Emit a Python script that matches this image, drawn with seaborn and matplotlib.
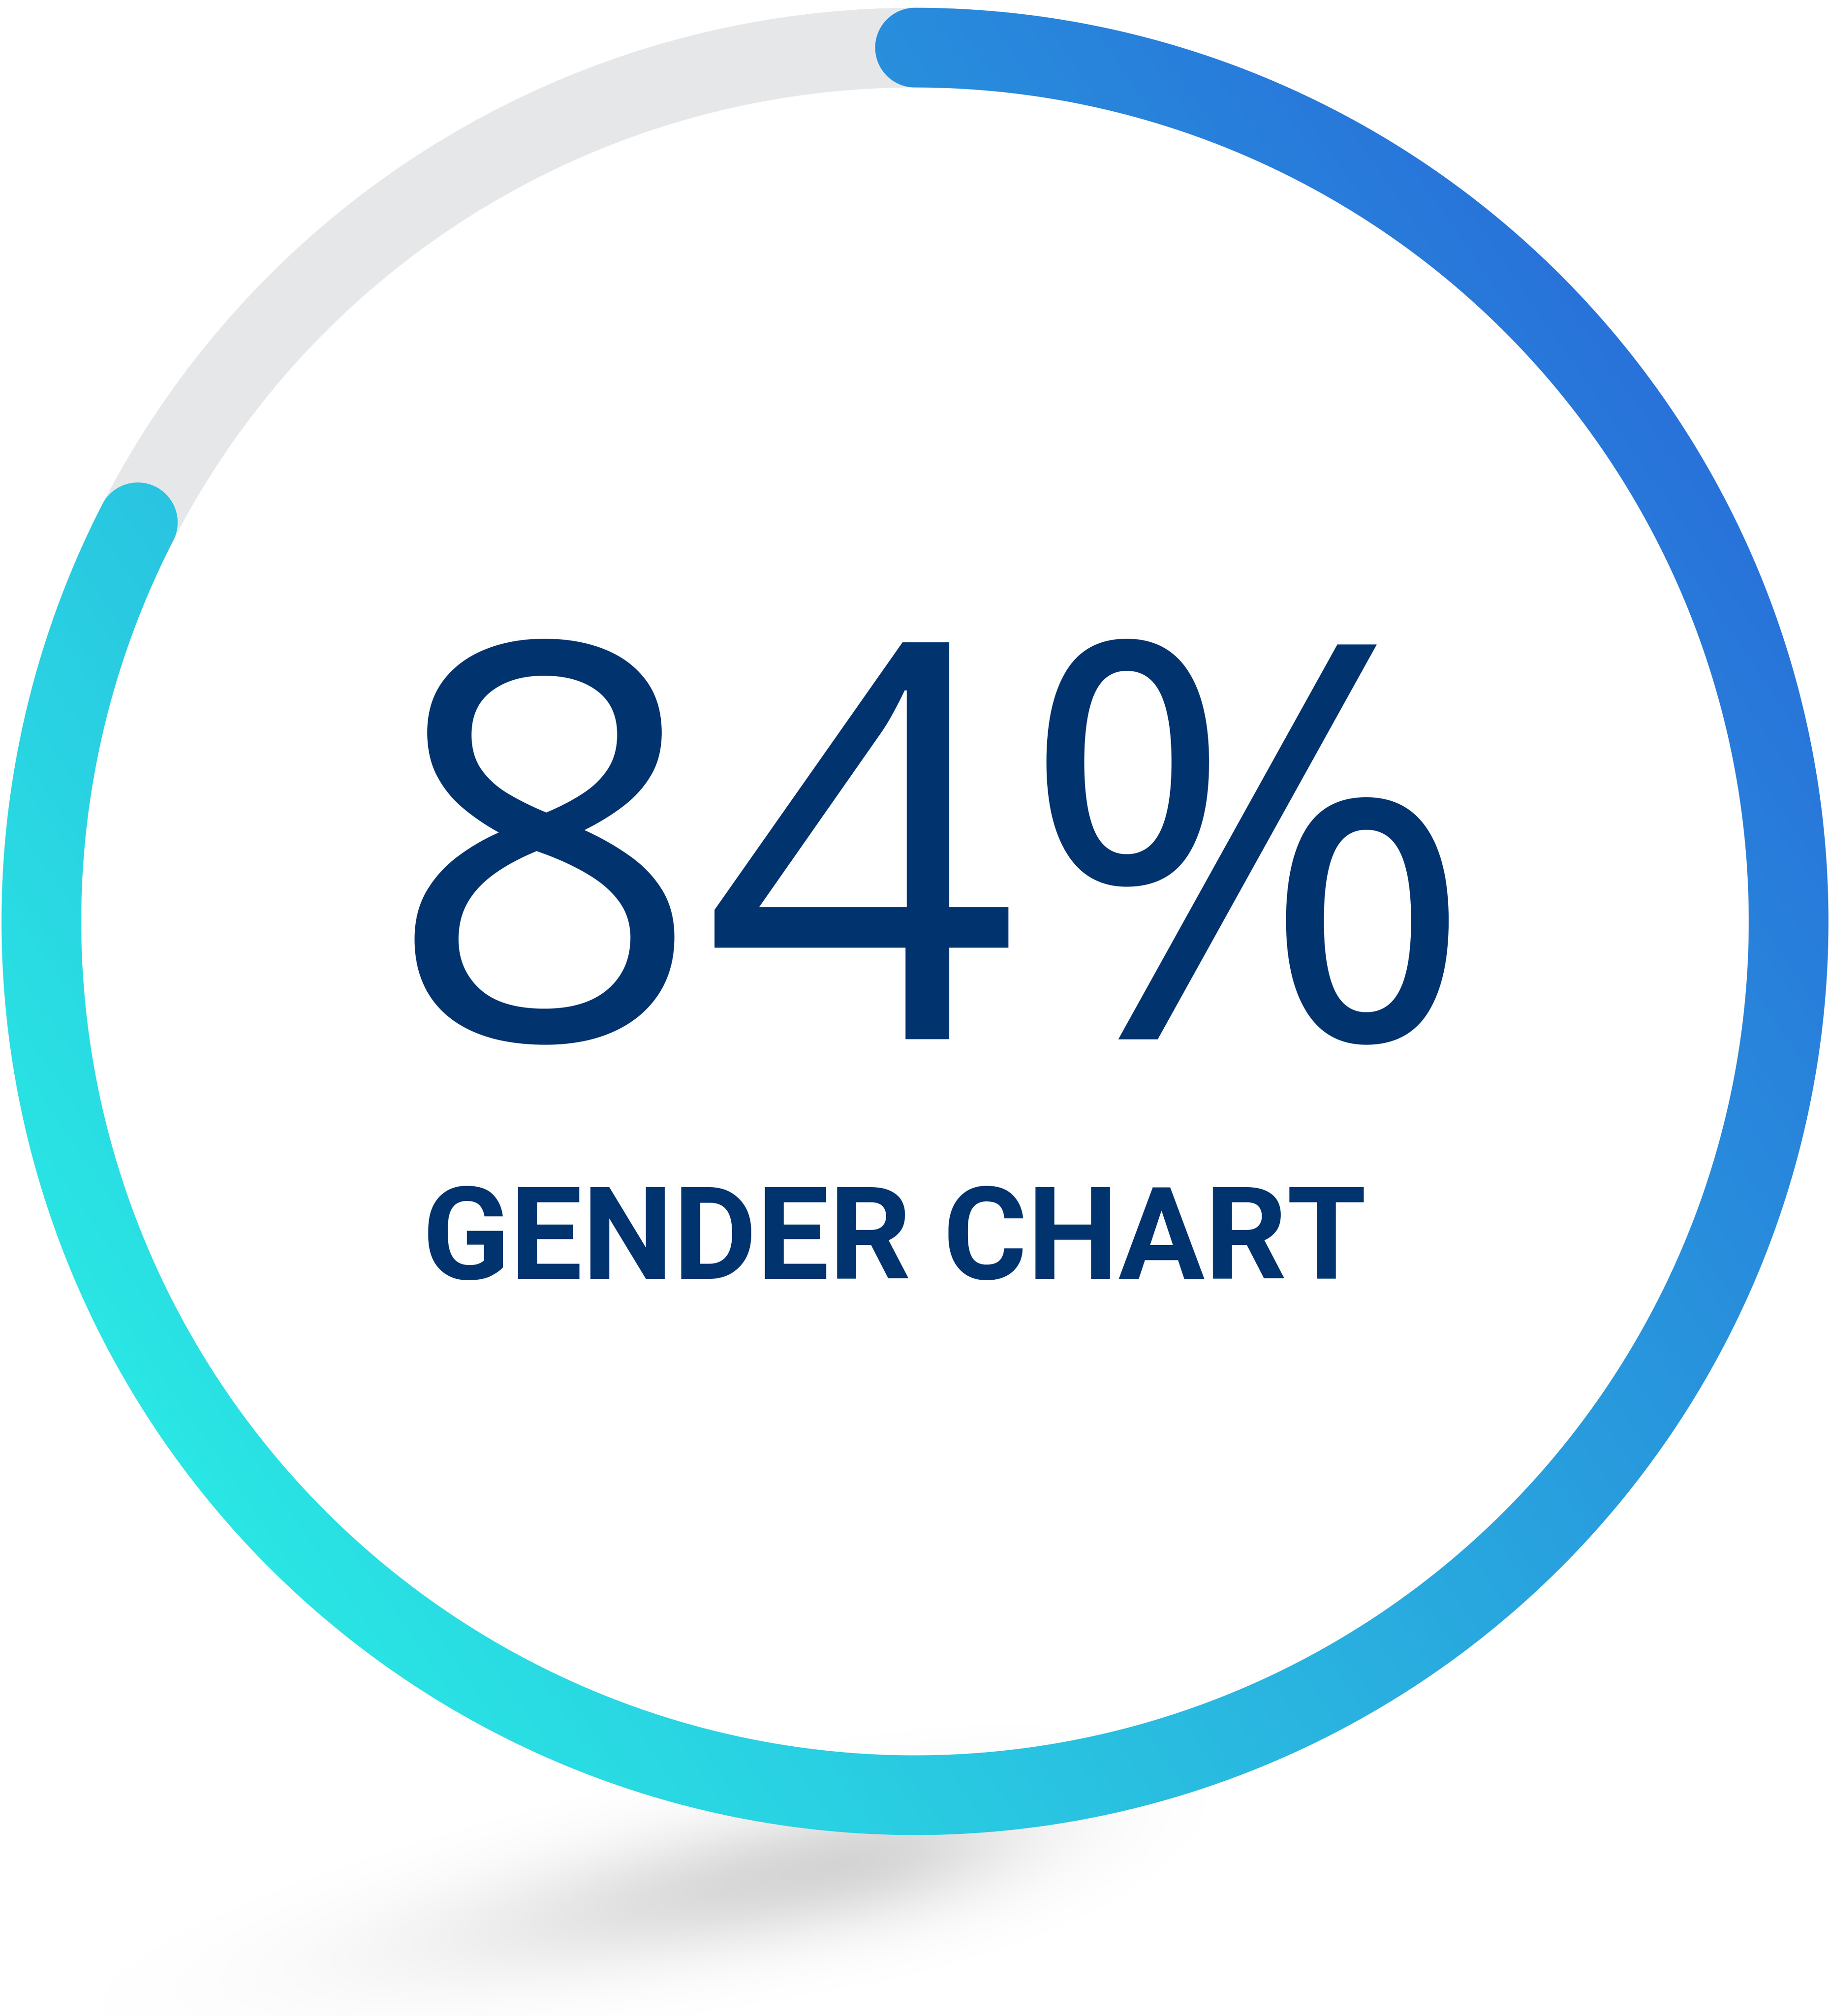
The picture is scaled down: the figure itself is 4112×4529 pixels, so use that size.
import numpy as np
import matplotlib
matplotlib.use("Agg")
import matplotlib.pyplot as plt
from matplotlib.patches import Wedge, PathPatch
from matplotlib.path import Path
import seaborn as sns

# values shown on the chart
percent = 84
value_label = f"{percent}%"
title_text = "GENDER CHART"

# colours
track_color = "#E6E7E8"
gradient_colors = ["#286FDA", "#2AE6E4"]   # blue (top right) -> cyan (bottom left)
text_color = "#01336F"

W, H = 4112, 4529
cx, cy = 2056, 2070      # ring centre (pixels)
radius = 1963            # ring centre line
ring_w = 179             # ring thickness

sns.set_theme(style="white")
plt.rcParams['font.family'] = ['Roboto', 'DejaVu Sans']

fig = plt.figure(figsize=(W / 100, H / 100), dpi=100)
ax = fig.add_axes([0, 0, 1, 1])
ax.set_xlim(0, W)
ax.set_ylim(H, 0)
ax.axis('off')

# soft floor shadow (elongated, tilted, fading to the lower left)
xs = np.linspace(0, W, 412)
ys = np.linspace(0, H, 453)
gx, gy = np.meshgrid(xs, ys)
tilt = np.radians(11)
dx, dy = gx - 1900, gy - 4190
along = dx * np.cos(tilt) - dy * np.sin(tilt)
across = dx * np.sin(tilt) + dy * np.cos(tilt)
sig_a = np.where(along < 0, 620, 300)
shade = np.exp(-0.5 * (along / sig_a) ** 2 - 0.5 * (across / 100) ** 2)
shadow = np.zeros(gx.shape + (4,))
shadow[..., 3] = 0.17 * shade
ax.imshow(shadow, extent=[0, W, H, 0], interpolation='bilinear', zorder=0)

# grey track
ax.add_patch(Wedge((cx, cy), radius + ring_w / 2, 0, 360, width=ring_w,
                   facecolor=track_color, edgecolor='none', zorder=1))

# progress arc: total length incl. round caps = percent of the circle
half = ring_w / 2
cap_deg = np.degrees(half / radius)
sweep = percent / 100 * 360 - 2 * cap_deg
th = np.radians(np.linspace(90, 90 - sweep, 600))


def pt(r, t):
    return np.column_stack([cx + r * np.cos(t), cy - r * np.sin(t)])


def cap(t, forward):
    r_vec = np.array([np.cos(t), -np.sin(t)])
    t_vec = np.array([np.sin(t), np.cos(t)])
    phi = np.linspace(0, np.pi, 80)
    centre = pt(radius, np.array([t]))[0]
    if forward:
        d = np.outer(np.cos(phi), r_vec) + np.outer(np.sin(phi), t_vec)
    else:
        d = -np.outer(np.cos(phi), r_vec) - np.outer(np.sin(phi), t_vec)
    return centre + half * d


verts = np.vstack([
    pt(radius + half, th),
    cap(th[-1], True),
    pt(radius - half, th[::-1]),
    cap(th[0], False),
])
clip = PathPatch(Path(verts, closed=False), transform=ax.transData,
                 facecolor='none', edgecolor='none')
ax.add_patch(clip)

cmap = sns.blend_palette(gradient_colors, as_cmap=True)
ax_x, ax_y = 3900, 900
bx, by = 400, 3300
vx, vy = bx - ax_x, by - ax_y
proj = ((gx - ax_x) * vx + (gy - ax_y) * vy) / (vx ** 2 + vy ** 2)
im = ax.imshow(np.clip(proj, 0, 1), cmap=cmap, vmin=0, vmax=1,
               extent=[0, W, H, 0], interpolation='bilinear', zorder=2)
im.set_clip_path(clip)

# labels
ax.text(2093, 2335, value_label, ha='center', va='baseline',
        fontsize=895, color=text_color, family=['Open Sans', 'DejaVu Sans'],
        zorder=3)
ax.text(2010, 2873, title_text, ha='center', va='baseline',
        fontsize=208, fontweight='bold', color=text_color, zorder=3)

fig.savefig('out.png', dpi=100, facecolor='white')
